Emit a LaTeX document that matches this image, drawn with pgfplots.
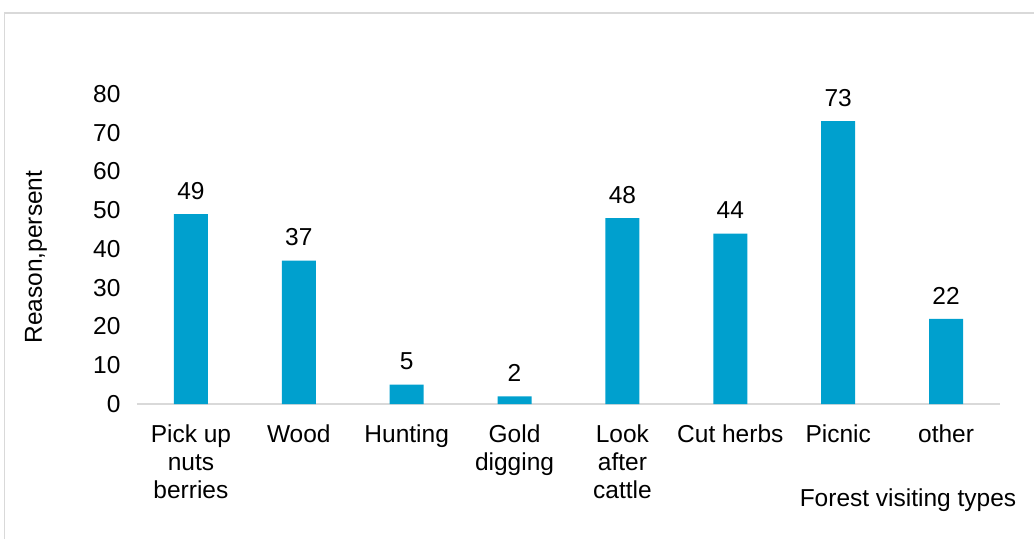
\documentclass[border=0pt]{standalone}
\usepackage{fontspec}
\setmainfont{Liberation Sans}
\usepackage{pgfplots}
\pgfplotsset{compat=1.18}
\definecolor{barblue}{RGB}{0,160,206}
\definecolor{axgray}{RGB}{217,217,217}
\definecolor{framegray}{RGB}{217,217,217}
\newcommand{\cf}{\fontsize{24.5}{28}\selectfont}
\begin{document}
\begin{tikzpicture}[x=1pt,y=1pt]
\path[use as bounding box] (0,0) rectangle (1034,539);
\draw[color=framegray, line width=1.2pt] (4.5,0) -- (4.5,526) -- (1034,526);
\begin{axis}[at={(137pt,135pt)}, anchor=south west, scale only axis,
  width=863pt, height=310pt,
  xmin=-0.5, xmax=7.5, ymin=0, ymax=80,
  axis x line*=bottom, axis y line*=left,
  y axis line style={draw=none},
  x axis line style={color=axgray, line width=1.4pt},
  major tick length=0pt,
  ytick={0,10,...,80},
  xtick={0,...,7},
  xticklabels={{Pick up\\nuts\\berries}, Wood, Hunting, {Gold\\digging}, {Look\\after\\cattle}, {Cut herbs}, Picnic, other},
  /pgf/number format/assume math mode=true,
  tick label style={font=\cf, text=black},
  xticklabel style={align=center, yshift=-17pt},
  yticklabel style={xshift=-13pt},
  ylabel={Reason,persent},
  every axis y label/.style={at={(rel axis cs:0,0.474)}, xshift=-101pt, rotate=90, anchor=center, font=\cf},
  ybar, bar width=34pt,
  nodes near coords,
  every node near coord/.append style={font=\cf, text=black, yshift=11pt},
  clip=false,
]
\addplot[fill=barblue, draw=none] coordinates {(0,49) (1,37) (2,5) (3,2) (4,48) (5,44) (6,73) (7,22)};
\end{axis}
\node[anchor=base, font=\cf] at (908,33) {Forest visiting types};
\end{tikzpicture}
\end{document}
